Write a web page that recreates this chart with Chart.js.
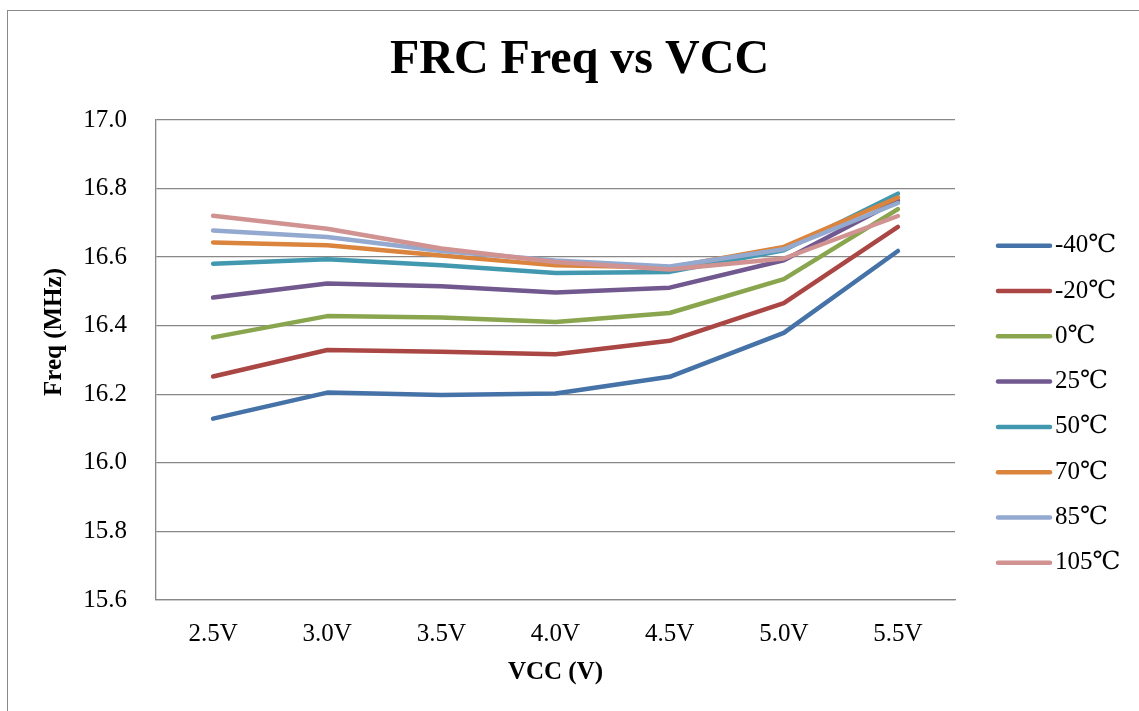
<!DOCTYPE html>
<html>
<head>
<meta charset="UTF-8">
<title>FRC Freq vs VCC</title>
<script src="https://cdn.jsdelivr.net/npm/chart.js"></script>
<style>
  html, body { margin: 0; padding: 0; background: #fff; overflow: hidden; }
  #frame { position: absolute; left: 7px; top: 10px; width: 1200px; height: 800px; border: 1.5px solid #8a8a8a; }
  #freqChart { position: absolute; left: 0; top: 0; }
</style>
</head>
<body>
<div id="frame"></div>
<canvas id="freqChart" width="1139" height="711"></canvas>
<script>
// supply voltages on the x axis
const vccLabels = ['2.5V', '3.0V', '3.5V', '4.0V', '4.5V', '5.0V', '5.5V'];

// FRC frequency (MHz) per temperature
const tempLabels = ['-40\u2103', '-20\u2103', '0\u2103', '25\u2103', '50\u2103', '70\u2103', '85\u2103', '105\u2103'];
const freqM40 = [16.129, 16.205, 16.198, 16.202, 16.251, 16.379, 16.618];
const freqM20 = [16.252, 16.329, 16.324, 16.317, 16.356, 16.466, 16.688];
const freq0   = [16.366, 16.428, 16.424, 16.411, 16.437, 16.536, 16.740];
const freq25  = [16.482, 16.523, 16.515, 16.497, 16.511, 16.591, 16.765];
const freq50  = [16.581, 16.594, 16.576, 16.554, 16.557, 16.620, 16.785];
const freq70  = [16.643, 16.635, 16.605, 16.576, 16.570, 16.630, 16.774];
const freq85  = [16.678, 16.659, 16.618, 16.590, 16.573, 16.623, 16.758];
const freq105 = [16.721, 16.683, 16.625, 16.586, 16.564, 16.596, 16.720];

const seriesColors = ['#4572A7', '#AA4643', '#89A54E', '#71588F', '#4198AF', '#DB843D', '#93A9CF', '#D19392'];
const allSeries = [freqM40, freqM20, freq0, freq25, freq50, freq70, freq85, freq105];

const yTicks = { min: 15.6, max: 17.0, step: 0.2 };

const SERIF = '"Liberation Serif", "DejaVu Serif", "Noto Sans CJK SC", serif';

const datasets = allSeries.map((vals, i) => ({
  label: tempLabels[i],
  data: vals,
  borderColor: seriesColors[i],
  backgroundColor: seriesColors[i],
  borderWidth: 4.5,
  pointRadius: 0,
  tension: 0,
  borderCapStyle: 'round',
  borderJoinStyle: 'round',
  order: allSeries.length - i   // later series on top
}));

// legend on the right plus the rotated y title
const sideText = {
  id: 'sideText',
  afterDraw(chart) {
    const ctx = chart.ctx;
    ctx.save();
    chart.data.datasets.forEach((ds, i) => {
      const y = 245.7 + i * 45.3;
      ctx.strokeStyle = ds.borderColor;
      ctx.lineWidth = 4.5;
      ctx.lineCap = 'round';
      ctx.beginPath();
      ctx.moveTo(998, y);
      ctx.lineTo(1050, y);
      ctx.stroke();
      ctx.fillStyle = '#000';
      ctx.font = '25px ' + SERIF;
      ctx.textAlign = 'left';
      ctx.textBaseline = 'middle';
      ctx.fillText(ds.label, 1055, y);
    });

    ctx.translate(55, 332);
    ctx.rotate(-Math.PI / 2);
    ctx.font = 'bold 25px ' + SERIF;
    ctx.textAlign = 'center';
    ctx.textBaseline = 'middle';
    ctx.fillStyle = '#000';
    ctx.fillText('Freq (MHz)', 0, 0);
    ctx.restore();
  }
};

new Chart(document.getElementById('freqChart'), {
  type: 'line',
  data: { labels: vccLabels, datasets: datasets },
  plugins: [sideText],
  options: {
    responsive: false,
    animation: false,
    devicePixelRatio: 1,
    layout: { padding: { left: 20, right: 0, top: 0, bottom: 0 } },
    plugins: {
      legend: { display: false },
      tooltip: { enabled: false },
      title: {
        display: true,
        text: 'FRC Freq vs VCC',
        color: '#000',
        font: { family: SERIF, size: 48, weight: 'bold', lineHeight: 1.2 },
        padding: { top: 32.2, bottom: 30.2 }
      }
    },
    scales: {
      x: {
        offset: true,
        grid: { display: false, drawTicks: false },
        border: { display: true, color: '#888', width: 1.3 },
        ticks: { color: '#000', font: { family: SERIF, size: 25 }, padding: 19, maxRotation: 0 },
        title: {
          display: true,
          text: 'VCC (V)',
          color: '#000',
          font: { family: SERIF, size: 25, weight: 'bold', lineHeight: 1.2 },
          padding: { top: 0, bottom: 23 }
        },
        afterFit(scale) { scale.height = 111; }
      },
      y: {
        min: yTicks.min,
        max: yTicks.max,
        grid: { color: '#888', lineWidth: 1.3, drawTicks: false },
        border: { display: true, color: '#888', width: 1.3 },
        ticks: {
          stepSize: yTicks.step,
          color: '#000',
          font: { family: SERIF, size: 25 },
          padding: 29,
          callback: v => Number(v).toFixed(1)
        },
        afterFit(scale) { scale.width = 136; }
      },
      yRight: {
        position: 'right',
        display: true,
        grid: { display: false },
        border: { display: false },
        ticks: { display: false },
        afterFit(scale) { scale.width = 184; }
      }
    }
  }
});
</script>
</body>
</html>
